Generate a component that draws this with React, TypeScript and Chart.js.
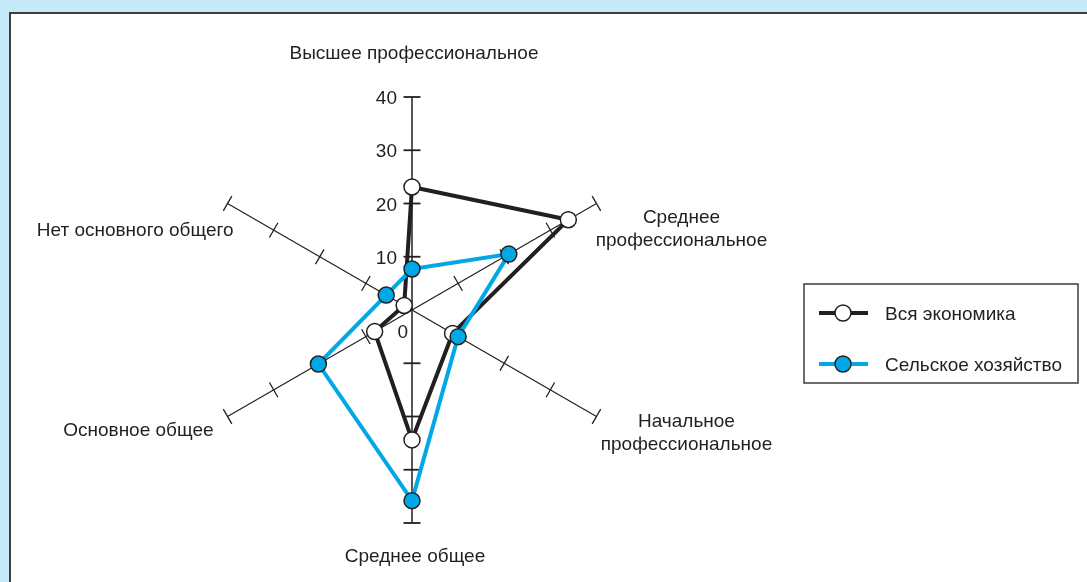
import React, { useEffect, useRef } from "react";
import { Chart, registerables } from "chart.js";

Chart.register(...registerables);

const categories: string[][] = [
  ["Высшее профессиональное"],
  ["Среднее", "профессиональное"],
  ["Начальное", "профессиональное"],
  ["Среднее общее"],
  ["Основное общее"],
  ["Нет основного общего"],
];
const economyValues = [23.1, 33.9, 8.8, 24.4, 8.1, 1.7];
const agricultureValues = [7.7, 21.0, 10.0, 35.8, 20.3, 5.6];
const tickValues = [10, 20, 30, 40];
const seriesNames = ["Вся экономика", "Сельское хозяйство"];

const INK = "#231f20";
const BLUE = "#00a9e6";
const FONT = '19px "Liberation Sans", Arial, sans-serif';
const TY = 2; // vertical text nudge

// label placement relative to each axis end: [dx, dy, align]
const labelPlacement: [number, number, CanvasTextAlign][] = [
  [2, -45, "center"],
  [85, 24, "center"],
  [90, 15, "center"],
  [3, 32, "center"],
  [-14, 12, "right"],
  [6, 25, "right"],
];

const radarPlugin = {
  id: "radarDecor",
  afterLayout(chart: any) {
    const s = chart.scales.r;
    s.xCenter = 412;
    s.yCenter = 310;
    s.drawingArea = 213;
  },
  beforeDraw(chart: any) {
    const ctx = chart.ctx;
    const W = chart.width;
    const H = chart.height;
    ctx.save();
    ctx.fillStyle = "#c6e9f9";
    ctx.fillRect(0, 0, W, H);
    ctx.fillStyle = "#ffffff";
    ctx.fillRect(9, 12, W - 9, H - 12);
    ctx.strokeStyle = "#3d3d3d";
    ctx.lineWidth = 2;
    ctx.beginPath();
    ctx.moveTo(10, H);
    ctx.lineTo(10, 13);
    ctx.lineTo(W, 13);
    ctx.stroke();
    ctx.restore();
  },
  beforeDatasetsDraw(chart: any) {
    const ctx = chart.ctx;
    const s = chart.scales.r;
    const max = tickValues[tickValues.length - 1];
    ctx.save();
    ctx.strokeStyle = INK;
    for (let i = 0; i < categories.length; i++) {
      const vertical = i === 0 || i === 3;
      ctx.lineWidth = vertical ? 1.5 : 1.2;
      const end = s.getPointPositionForValue(i, max);
      ctx.beginPath();
      ctx.moveTo(s.xCenter, s.yCenter);
      ctx.lineTo(end.x, end.y);
      ctx.stroke();
      ctx.lineWidth = vertical ? 1.8 : 1.3;
      for (const v of tickValues) {
        const p = s.getPointPositionForValue(i, v);
        const a = p.angle;
        const px = -Math.sin(a) * 8.5;
        const py = Math.cos(a) * 8.5;
        ctx.beginPath();
        ctx.moveTo(p.x - px, p.y - py);
        ctx.lineTo(p.x + px, p.y + py);
        ctx.stroke();
      }
    }
    // tick labels
    ctx.fillStyle = INK;
    ctx.font = FONT;
    ctx.textAlign = "right";
    ctx.textBaseline = "middle";
    for (const v of tickValues) {
      const p = s.getPointPositionForValue(0, v);
      ctx.fillText(String(v), p.x - 15, p.y + TY);
    }
    ctx.fillText("0", s.xCenter - 4, s.yCenter + 21 + TY);
    // axis labels
    categories.forEach((lines, i) => {
      const end = s.getPointPositionForValue(i, max);
      const [dx, dy, align] = labelPlacement[i];
      ctx.textAlign = align;
      const lh = 23;
      const y0 = end.y + dy + TY - ((lines.length - 1) * lh) / 2;
      lines.forEach((ln, k) => ctx.fillText(ln, end.x + dx, y0 + k * lh));
    });
    ctx.restore();
  },
  afterDraw(chart: any) {
    const ctx = chart.ctx;
    ctx.save();
    ctx.strokeStyle = "#3d3d3d";
    ctx.lineWidth = 1.5;
    ctx.strokeRect(804, 284, 274, 99);
    const ds = chart.data.datasets;
    const rows = [313, 364];
    ds.forEach((d: any, k: number) => {
      const y = rows[k];
      ctx.strokeStyle = d.borderColor;
      ctx.lineWidth = 4;
      ctx.beginPath();
      ctx.moveTo(819, y);
      ctx.lineTo(868, y);
      ctx.stroke();
      ctx.beginPath();
      ctx.arc(843, y, 8, 0, Math.PI * 2);
      ctx.fillStyle = d.pointBackgroundColor;
      ctx.fill();
      ctx.strokeStyle = INK;
      ctx.lineWidth = 1.5;
      ctx.stroke();
      ctx.fillStyle = INK;
      ctx.font = FONT;
      ctx.textAlign = "left";
      ctx.textBaseline = "middle";
      ctx.fillText(d.label, 885, y + TY);
    });
    ctx.restore();
  },
};

export default function App() {
  const ref = useRef<HTMLCanvasElement>(null);
  useEffect(() => {
    if (!ref.current) return;
    const chart = new Chart(ref.current, {
      type: "radar",
      data: {
        labels: categories.map((c) => c.join(" ")),
        datasets: [
          {
            label: seriesNames[0],
            data: economyValues,
            borderColor: INK,
            borderWidth: 4,
            backgroundColor: "rgba(0,0,0,0)",
            fill: false,
            pointBackgroundColor: "#ffffff",
            pointBorderColor: INK,
            pointBorderWidth: 1.5,
            pointRadius: 8,
            order: 1,
          },
          {
            label: seriesNames[1],
            data: agricultureValues,
            borderColor: BLUE,
            borderWidth: 4,
            backgroundColor: "rgba(0,0,0,0)",
            fill: false,
            pointBackgroundColor: BLUE,
            pointBorderColor: INK,
            pointBorderWidth: 1.5,
            pointRadius: 8,
            order: 0,
          },
        ],
      },
      options: {
        responsive: false,
        animation: false,
        layout: { padding: 0 },
        plugins: { legend: { display: false }, tooltip: { enabled: false } },
        elements: { line: { tension: 0 } },
        scales: {
          r: {
            min: 0,
            max: 40,
            ticks: { display: false, stepSize: 10 },
            grid: { display: false },
            angleLines: { display: false },
            pointLabels: { display: false },
          },
        },
      },
      plugins: [radarPlugin],
    });
    return () => chart.destroy();
  }, []);
  return (
    <div style={{ position: "absolute", left: 0, top: 0, width: 1087, height: 582 }}>
      <canvas ref={ref} width={1087} height={582} style={{ display: "block" }} />
    </div>
  );
}
